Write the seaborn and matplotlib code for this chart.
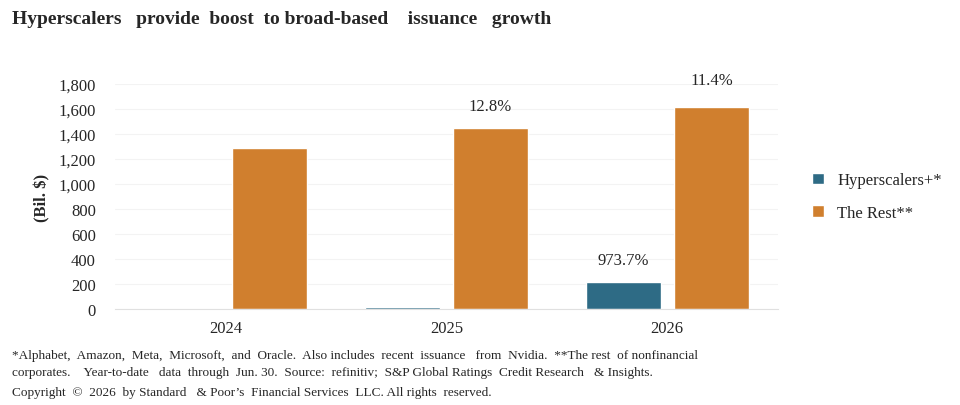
import seaborn as sns
import matplotlib.pyplot as plt
import pandas as pd

years = ['2024', '2025', '2026']
hyperscalers = [1, 19, 218]
the_rest = [1285, 1446, 1613]
series_names = ['Hyperscalers+*', 'The Rest**']
pct_labels = {('2025', 'The Rest**'): '12.8%', ('2026', 'The Rest**'): '11.4%',
              ('2026', 'Hyperscalers+*'): '973.7%'}
colors = ['#2E6B85', '#D07F2E']

df = pd.DataFrame({
    'year': years * 2,
    'value': hyperscalers + the_rest,
    'series': [series_names[0]] * 3 + [series_names[1]] * 3,
})

sns.set_style('white')
plt.rcParams['font.family'] = ['Liberation Serif', 'DejaVu Serif']

fig = plt.figure(figsize=(9.6, 4.06), dpi=100)
ax = fig.add_axes([0.12, 0.236, 0.69, 0.555])
sns.barplot(data=df, x='year', y='value', hue='series', palette=colors,
            saturation=1, width=0.8, gap=0.15, ax=ax, legend=True)

for cont, name in zip(ax.containers, series_names):
    for bar, yr in zip(cont, years):
        lab = pct_labels.get((yr, name))
        if lab:
            off = 14 if yr == '2026' and name == 'The Rest**' else 10
            ax.annotate(lab, (bar.get_x() + bar.get_width() / 2, bar.get_height()),
                        xytext=(0, off), textcoords='offset points',
                        ha='center', va='bottom', fontsize=12)

ax.set_ylim(0, 1800)
ax.set_xlim(-0.5, 2.5)
ax.set_yticks(range(0, 1801, 200))
ax.set_yticklabels([f'{v:,}' for v in range(0, 1801, 200)], fontsize=12)
ax.tick_params(axis='x', labelsize=12, length=0, pad=8)
ax.tick_params(axis='y', length=0, pad=14)
ax.yaxis.grid(True, color='#F3F3F3', lw=0.8)
ax.set_axisbelow(True)
for s in ['top', 'right', 'left']:
    ax.spines[s].set_visible(False)
ax.spines['bottom'].set_color('#E0E0E0')
ax.set_xlabel('')
ax.set_ylabel('(Bil. $)', fontsize=12, fontweight='bold', labelpad=6)

ax.legend(loc='center left', bbox_to_anchor=(1.03, 0.5), frameon=False,
          fontsize=12, handlelength=0.7, handleheight=0.7, labelspacing=1.0)

fig.text(0.012, 0.94, 'Hyperscalers   provide  boost  to broad-based    issuance   growth',
         fontsize=14, fontweight='bold')
fig.text(0.012, 0.115, '*Alphabet,  Amazon,  Meta,  Microsoft,  and  Oracle.  Also includes  recent  issuance   from  Nvidia.  **The rest  of nonfinancial',
         fontsize=9.5)
fig.text(0.012, 0.075, 'corporates.    Year-to-date   data  through  Jun. 30.  Source:  refinitiv;  S&P Global Ratings  Credit Research   & Insights.',
         fontsize=9.5)
fig.text(0.012, 0.025, 'Copyright  \u00a9  2026  by Standard   & Poor\u2019s  Financial Services  LLC. All rights  reserved.',
         fontsize=9.5)

fig.savefig('out.png', dpi=100)
